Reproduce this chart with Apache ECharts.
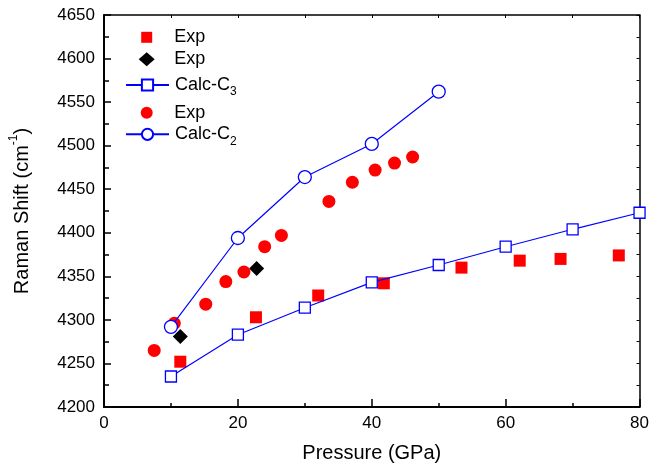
<!DOCTYPE html>
<html>
<head>
<meta charset="utf-8">
<script src="https://cdn.jsdelivr.net/npm/echarts@6/dist/echarts.min.js"></script>
<style>
  html, body { margin: 0; padding: 0; background: #fff; }
  #chart { width: 652px; height: 468px; }
</style>
</head>
<body>
<div id="chart"></div>
<script>
// Axis ranges (GPa / cm^-1)
const xMin = 0, xMax = 80, xStep = 20;
const yMin = 4200, yMax = 4650, yStep = 50;

// Experimental Raman shifts, [pressure GPa, shift cm^-1]
const expSquares = [
  [11.4, 4252], [22.7, 4303], [32.0, 4328], [41.8, 4342],
  [53.4, 4360], [62.1, 4368], [68.2, 4370], [76.9, 4374]
];
const expDiamonds = [
  [11.4, 4281], [22.8, 4359]
];
const expCircles = [
  [7.5, 4265], [10.5, 4296], [15.2, 4318], [18.2, 4344],
  [20.9, 4355], [24.0, 4384], [26.5, 4397], [33.6, 4436],
  [37.1, 4458], [40.5, 4472], [43.4, 4480], [46.1, 4487]
];

// Calculated vibron frequencies
const calcC3 = [
  [10, 4235], [20, 4283], [30, 4314], [40, 4343],
  [50, 4363], [60, 4384], [70, 4404], [80, 4423]
];
const calcC2 = [
  [10, 4292], [20, 4394], [30, 4464], [40, 4502], [50, 4562]
];

// Legend texts (series names must be unique, texts repeat)
const seriesNames = ['Exp-1', 'Exp-2', 'Calc-C3', 'Exp-3', 'Calc-C2'];
const legendTexts = {
  'Exp-1': 'Exp',
  'Exp-2': 'Exp',
  'Calc-C3': 'Calc-C{sub|3}',
  'Exp-3': 'Exp',
  'Calc-C2': 'Calc-C{sub|2}'
};

const FONT = 'Liberation Sans, Arial, Helvetica, sans-serif';
const RED = '#ff0000', BLUE = '#0000ff', BLACK = '#000000';

function legendFor(name, opts) {
  return {
    data: [name],
    orient: 'vertical',
    left: opts.left,
    top: opts.top,
    padding: 0,
    itemWidth: opts.w,
    itemHeight: opts.h,
    itemGap: 0,
    selectedMode: false,
    formatter: (n) => legendTexts[n],
    textStyle: {
      fontFamily: FONT,
      fontSize: 18,
      color: BLACK,
      lineHeight: 26,
      padding: [0, 0, 0, opts.pad],
      rich: {
        sub: { fontSize: 12, lineHeight: 12, verticalAlign: 'bottom', fontFamily: FONT, color: BLACK }
      }
    }
  };
}

const tickFont = { fontFamily: FONT, fontSize: 17, color: BLACK };
const plainNumber = (v) => String(v);

const chart = echarts.init(document.getElementById('chart'), null, { renderer: 'canvas' });

chart.setOption({
  animation: false,
  backgroundColor: '#ffffff',
  grid: { left: 102, right: 11, top: 15, bottom: 60, containLabel: false },
  legend: [
    legendFor('Exp-1',   { left: 141.2, top: 37.3 - 13, w: 11, h: 11, pad: 17 }),
    legendFor('Exp-2',   { left: 138.7, top: 59.3 - 13, w: 16, h: 14, pad: 14.6 }),
    legendFor('Calc-C3', { left: 125,   top: 85 - 13,   w: 43, h: 14, pad: 1 }),
    legendFor('Exp-3',   { left: 140.7, top: 112.7 - 13, w: 12, h: 12, pad: 16.6 }),
    legendFor('Calc-C2', { left: 125,   top: 134.3 - 13, w: 43, h: 14, pad: 1 })
  ],
  xAxis: [
    {
      type: 'value', position: 'bottom',
      min: xMin, max: xMax, interval: xStep,
      name: 'Pressure (GPa)', nameLocation: 'middle', nameGap: 36,
      nameTextStyle: { fontFamily: FONT, fontSize: 20, color: BLACK, lineHeight: 20 },
      axisLine: { show: true, onZero: false, lineStyle: { color: BLACK, width: 2 } },
      axisTick: { show: true, inside: true, length: 8, lineStyle: { color: BLACK, width: 1.5 } },
      minorTick: { show: true, splitNumber: 2, length: 4, lineStyle: { color: BLACK, width: 1.5 } },
      axisLabel: Object.assign({ margin: 8, formatter: plainNumber }, tickFont),
      splitLine: { show: false }
    },
    {
      type: 'value', position: 'top',
      min: xMin, max: xMax, interval: xStep,
      axisLine: { show: true, onZero: false, lineStyle: { color: BLACK, width: 1.5 } },
      axisTick: { show: true, inside: true, length: 3, lineStyle: { color: BLACK, width: 1 } },
      minorTick: { show: true, splitNumber: 2, length: 3, lineStyle: { color: BLACK, width: 1 } },
      axisLabel: { show: false },
      splitLine: { show: false }
    }
  ],
  yAxis: [
    {
      type: 'value', position: 'left',
      min: yMin, max: yMax, interval: yStep,
      name: 'Raman Shift (cm{sup|-1})', nameLocation: 'middle', nameGap: 68, nameRotate: 90,
      nameTextStyle: {
        fontFamily: FONT, fontSize: 20, color: BLACK, lineHeight: 28,
        rich: { sup: { fontSize: 12, lineHeight: 12, verticalAlign: 'top', fontFamily: FONT, color: BLACK } }
      },
      axisLine: { show: true, onZero: false, lineStyle: { color: BLACK, width: 2 } },
      axisTick: { show: true, inside: true, length: 7, lineStyle: { color: BLACK, width: 1.5 } },
      minorTick: { show: true, splitNumber: 2, length: 5, lineStyle: { color: BLACK, width: 1.5 } },
      axisLabel: Object.assign({ margin: 9, formatter: plainNumber }, tickFont),
      splitLine: { show: false }
    },
    {
      type: 'value', position: 'right',
      min: yMin, max: yMax, interval: yStep,
      axisLine: { show: true, onZero: false, lineStyle: { color: BLACK, width: 1.5 } },
      axisTick: { show: true, inside: true, length: 3, lineStyle: { color: BLACK, width: 1 } },
      minorTick: { show: true, splitNumber: 2, length: 3, lineStyle: { color: BLACK, width: 1 } },
      axisLabel: { show: false },
      splitLine: { show: false }
    }
  ],
  series: [
    {
      name: seriesNames[0], type: 'scatter', data: expSquares,
      symbol: 'rect', symbolSize: 12, z: 2,
      itemStyle: { color: RED, opacity: 1 }
    },
    {
      name: seriesNames[1], type: 'scatter', data: expDiamonds,
      symbol: 'diamond', symbolSize: [15, 15], z: 2,
      itemStyle: { color: BLACK, opacity: 1 }
    },
    {
      name: seriesNames[2], type: 'line', data: calcC3,
      symbol: 'rect', symbolSize: 11, showSymbol: true, z: 4,
      lineStyle: { color: BLUE, width: 1.2 },
      itemStyle: { color: '#ffffff', borderColor: BLUE, borderWidth: 1.3, opacity: 1 }
    },
    {
      name: seriesNames[3], type: 'scatter', data: expCircles,
      symbol: 'circle', symbolSize: 13, z: 2,
      itemStyle: { color: RED, opacity: 1 }
    },
    {
      name: seriesNames[4], type: 'line', data: calcC2,
      symbol: 'circle', symbolSize: 13, showSymbol: true, z: 4,
      lineStyle: { color: BLUE, width: 1.2 },
      itemStyle: { color: '#ffffff', borderColor: BLUE, borderWidth: 1.3, opacity: 1 }
    }
  ]
});
</script>
</body>
</html>
